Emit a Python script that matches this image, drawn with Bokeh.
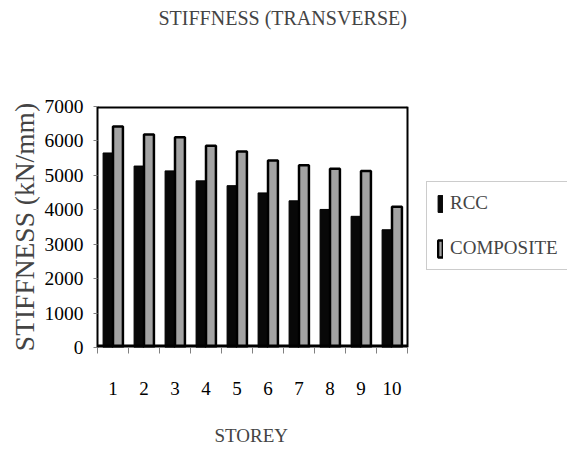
from bokeh.plotting import figure
from bokeh.models import (ColumnDataSource, FixedTicker, Legend, LegendItem,
                          Range1d, Title)
from bokeh.transform import dodge
from bokeh.embed import file_html
from bokeh.resources import INLINE

storeys = [1, 2, 3, 4, 5, 6, 7, 8, 9, 10]
rcc = [5650, 5270, 5130, 4840, 4700, 4490, 4260, 4010, 3810, 3420]
composite = [6420, 6190, 6110, 5860, 5690, 5430, 5290, 5190, 5130, 4090]
y_ticks = [0, 1000, 2000, 3000, 4000, 5000, 6000, 7000]

FONT = "Liberation Serif"

W, H = 567, 451
LEFT, TOP, BOTTOM = 97, 106, 104
PLOT_W = 310                     # width of the boxed plot area
FRAME_W = W - LEFT               # frame extends under the legend

x_lo = min(storeys) - 0.5
x_hi = max(storeys) + 0.5
x_end = x_lo + (x_hi - x_lo) * FRAME_W / PLOT_W
y_lo, y_hi = min(y_ticks), max(y_ticks)

src = ColumnDataSource(dict(storey=storeys, rcc=rcc, composite=composite))

p = figure(width=W, height=H, output_backend="svg", toolbar_location=None,
           x_range=Range1d(x_lo, x_end), y_range=Range1d(y_lo, y_hi),
           min_border_left=LEFT, min_border_right=0,
           min_border_top=TOP, min_border_bottom=BOTTOM)
p.title = None
p.outline_line_color = None
p.xgrid.visible = False
p.ygrid.visible = False
p.background_fill_color = "white"
p.border_fill_color = "white"

r1 = p.vbar(x=dodge("storey", -0.16), top="rcc", width=0.32, bottom=0,
            source=src, fill_color="#080808", line_color="#000000", line_width=1)
r2 = p.vbar(x=dodge("storey", 0.16), top="composite", width=0.32, bottom=0,
            source=src, fill_color="#a3a3a3", line_color="#000000", line_width=2.5)

# box around the plot area (top, right, bottom edges)
p.segment(x0=[x_lo, x_hi, x_lo], y0=[y_hi, y_lo, y_lo],
          x1=[x_hi, x_hi, x_hi], y1=[y_hi, y_hi, y_lo],
          line_color="#000000", line_width=[4, 2, 6])

xa = p.xaxis[0]
xa.ticker = FixedTicker(ticks=storeys, minor_ticks=[s - 0.5 for s in storeys] + [x_hi])
xa.axis_line_color = None
xa.major_tick_out = 0
xa.major_tick_in = 0
xa.minor_tick_out = 6
xa.minor_tick_in = 0
xa.minor_tick_line_color = "#808080"
xa.major_label_standoff = 28
xa.major_label_text_font = FONT
xa.major_label_text_font_size = "19px"
xa.major_label_text_color = "#000000"

ya = p.yaxis[0]
ya.ticker = FixedTicker(ticks=y_ticks)
ya.major_tick_out = 4
ya.major_tick_in = 0
ya.minor_tick_out = 0
ya.minor_tick_in = 0
ya.major_tick_line_color = "#808080"
ya.axis_line_color = "#000000"
ya.axis_line_width = 2
ya.major_label_standoff = 10
ya.major_label_text_font = FONT
ya.major_label_text_font_size = "19.5px"
ya.major_label_text_color = "#000000"
ya.axis_label = "STIFFNESS (kN/mm)"
ya.axis_label_text_font = FONT
ya.axis_label_text_font_style = "normal"
ya.axis_label_text_font_size = "27.5px"
ya.axis_label_standoff = 2

# top: spacer next to the frame, then the title
p.add_layout(Title(text=" ", text_font_size="1px", standoff=73), "above")
p.add_layout(Title(text="STIFFNESS (TRANSVERSE)", text_font=FONT,
                   text_font_style="normal", text_font_size="20px",
                   align="left", offset=61, standoff=0, vertical_align="top"),
             "above")

# bottom: spacer below the tick labels, then the x-axis title
p.add_layout(Title(text=" ", text_font_size="1px", standoff=24), "below")
p.add_layout(Title(text="STOREY", text_font=FONT, text_font_style="normal",
                   text_font_size="19px", align="left", offset=117,
                   standoff=0, vertical_align="top"), "below")

legend = Legend(items=[LegendItem(label="RCC", renderers=[r1]),
                       LegendItem(label="COMPOSITE", renderers=[r2])],
                location=(329, 77), padding=10, spacing=23,
                glyph_width=6, glyph_height=21, label_height=21,
                label_standoff=7, label_text_font=FONT,
                label_text_font_size="19px", border_line_color="#9a9a9a",
                border_line_width=1, background_fill_color="white",
                background_fill_alpha=1.0, margin=0)
p.add_layout(legend, "center")

open("out.html", "w").write(file_html(p, INLINE))
